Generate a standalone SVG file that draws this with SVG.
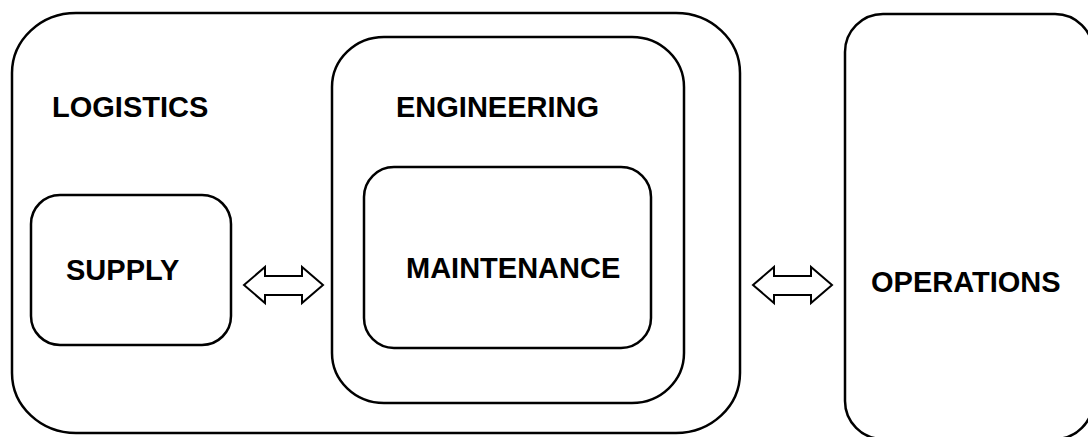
<svg xmlns="http://www.w3.org/2000/svg" width="1088" height="437" viewBox="0 0 1088 437">
  <style>
    .box { fill: none; stroke: #000; stroke-width: 2.5; }
    .label { font-family: "Liberation Sans", Arial, sans-serif; font-weight: bold; font-size: 29px; fill: #000; }
    .dbl { fill: #fff; stroke: #000; stroke-width: 2; stroke-linejoin: miter; }
  </style>
  <rect width="1088" height="437" fill="#fff"/>

  <g id="logistics">
    <rect class="box" x="12" y="13" width="728" height="420" rx="64" ry="60"/>
    <text class="label" x="52" y="117">LOGISTICS</text>
  </g>

  <g id="supply">
    <rect class="box" x="31" y="195" width="200" height="150" rx="29" ry="29"/>
    <text class="label" x="66" y="280">SUPPLY</text>
  </g>

  <g id="engineering">
    <rect class="box" x="332" y="37" width="352" height="366" rx="52" ry="50"/>
    <text class="label" x="396" y="117">ENGINEERING</text>
  </g>

  <g id="maintenance">
    <rect class="box" x="364" y="167" width="287" height="181" rx="30" ry="30"/>
    <text class="label" x="406" y="278">MAINTENANCE</text>
  </g>

  <g id="operations">
    <rect class="box" x="845" y="14" width="248" height="425" rx="38" ry="38"/>
    <text class="label" x="871" y="292">OPERATIONS</text>
  </g>

  <g id="connectors">
    <!-- supply <-> engineering -->
    <polygon class="dbl" points="244,285 265,267 265,276 302,276 302,267 323,285 302,303 302,295 265,295 265,303"/>
    <!-- logistics <-> operations -->
    <polygon class="dbl" points="753,285 774,267 774,276 811,276 811,267 832,285 811,303 811,295 774,295 774,303"/>
  </g>
</svg>
